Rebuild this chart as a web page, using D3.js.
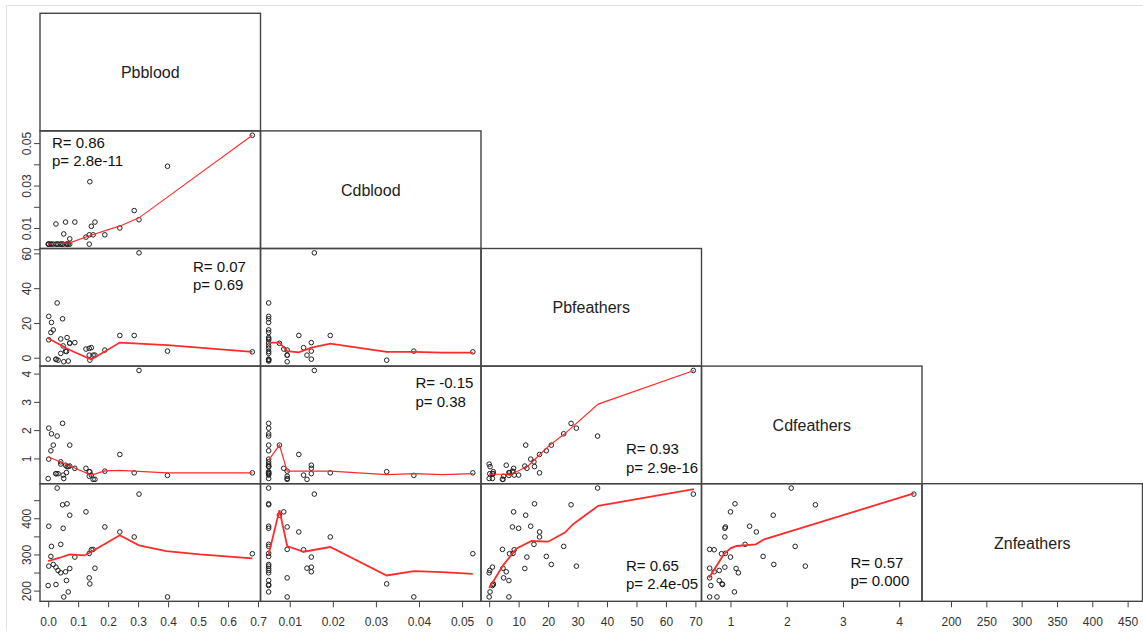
<!DOCTYPE html>
<html>
<head>
<meta charset="utf-8">
<script src="https://cdn.jsdelivr.net/npm/d3@7"></script>
<style>
  body { margin: 0; background: #fff; }
  text { font-family: "Liberation Sans", Arial, sans-serif; }
</style>
</head>
<body>
<div id="chart"></div>
<script>
// variable names on the diagonal
const varNames = ["Pbblood", "Cdblood", "Pbfeathers", "Cdfeathers", "Znfeathers"]

// values (x) of the matrix
const pbBloodX = [0.030, 0.303, 0.063, 0.048, 0.126, 0.072, 0.002, 0.189, 0.050, 0.239, 0.287, 0.042, 0.011, 0.150, 0.144, 0.137, 0.681, 0.009,
  0.089, 0.017, 0.002, 0.026, 0.072, 0.156, 0.033, 0.058, 0.042, 0.137, 0.061, 0.139, 0.026, 0.000, 0.067, 0.052, 0.398]
const cdBloodX = [0.0051, 0.0157, 0.0051, 0.0051, 0.0086, 0.0076, 0.0051, 0.0094, 0.0051, 0.0121, 0.0194, 0.0051, 0.0051, 0.0094, 0.0132, 0.0051,
  0.0525, 0.0051, 0.0150, 0.0051, 0.0051, 0.0150, 0.0051, 0.0140, 0.0051, 0.0150, 0.0051, 0.0094, 0.0051, 0.0325, 0.0051, 0.0051, 0.0051, 0.0094, 0.0388]
const pbFeathersX = [36.8, 69.3, 15.4, 27.8, 8.3, 12.4, 14.1, 7.9, 10.0, 17.1, 17.1, 15.2, 25.3, 4.5, 8.5, 8.1, 6.9, 19.4,
  12.8, 21.1, 29.6, 1.1, 12.1, 4.7, 0.2, 5.8, 0.0, 4.9, 6.7, 1.4, 1.4, 1.1, 0.3, 0.0, 6.7]
const cdFeathersX = [2.08, 4.26, 1.08, 2.51, 1.00, 1.76, 1.34, 0.91, 0.90, 1.46, 0.90, 1.26, 2.15, 0.63, 0.71, 0.91, 0.84, 1.58,
  1.00, 1.77, 2.33, 0.90, 1.10, 0.63, 0.80, 0.71, 1.14, 0.63, 0.80, 0.85, 0.86, 0.65, 1.07, 0.63, 0.76]
const znFeathersXRange = [170.5, 459.5]

const cdBloodY = [0.0024, 0.0139, 0.0024, 0.0024, 0.0057, 0.0049, 0.0024, 0.0068, 0.0024, 0.0100, 0.0182, 0.0024, 0.0024, 0.0068, 0.0108, 0.0024,
  0.0537, 0.0024, 0.0128, 0.0024, 0.0024, 0.0119, 0.0024, 0.0128, 0.0024, 0.0128, 0.0024, 0.0068, 0.0024, 0.0318, 0.0024, 0.0024, 0.0024, 0.0072, 0.0391]
const pbFeathersY = [31.5, 60.3, 11.6, 22.4, 5.0, 8.3, 10.3, 4.4, 6.8, 12.8, 12.8, 10.8, 20.3, 1.5, 5.8, 5.4, 3.4, 14.5,
  8.7, 16.0, 23.8, -0.8, 8.5, 1.5, -1.4, 3.8, 2.5, 1.5, 3.6, -1.4, -1.0, -0.8, -1.9, -2.3, 3.8]
const cdFeathersY = [1.79, 4.11, 0.71, 2.24, 0.65, 1.47, 0.975, 0.55, 0.41, 1.14, 0.49, 0.88, 1.87, 0.26, 0.41, 0.53, 0.49, 1.27,
  0.65, 1.47, 2.07, 0.46, 0.73, 0.26, 0.46, 0.76, 0.80, 0.37, 0.50, 0.53, 0.46, 0.29, 0.71, 0.29, 0.40]
const znFeathersY = [483.5, 466.8, 440.0, 437.2, 417.7, 408.5, 378.0, 376.0, 372.3, 362.2, 348.3, 327.9, 322.3, 314.0, 313.0, 302.9, 302.0, 294.6,
  292.7, 272.3, 267.7, 264.9, 261.2, 262.0, 255.7, 252.0, 249.2, 235.3, 227.9, 218.6, 216.8, 214.0, 196.4, 182.5, 182.5]

// smoother lines, keyed "row-col"
const smoothLines = {
  "1-0": [[0, 0.0025], [0.072, 0.003], [0.14, 0.0065], [0.24, 0.011], [0.303, 0.0148], [0.681, 0.0537]],
  "2-0": [[0, 11.2], [0.072, 4.4], [0.144, -1.0], [0.239, 8.7], [0.398, 7.3], [0.681, 3.4]],
  "3-0": [[0, 1.06], [0.072, 0.73], [0.144, 0.41], [0.189, 0.56], [0.239, 0.58], [0.398, 0.49], [0.681, 0.49]],
  "4-0": [[0, 281.6], [0.039, 290.9], [0.072, 300.1], [0.122, 297.3], [0.144, 307.5], [0.239, 352.9], [0.303, 325.1], [0.394, 309.4], [0.506, 300.1], [0.681, 289]],
  "2-1": [[0.0051, 8.7], [0.0076, 8.7], [0.0094, 3.8], [0.0121, 3.1], [0.015, 5.8], [0.0194, 8.1], [0.0325, 3.4], [0.0388, 3.4], [0.0454, 2.9], [0.0525, 2.9]],
  "3-1": [[0.0051, 0.94], [0.0076, 1.47], [0.0094, 0.55], [0.0194, 0.55], [0.0325, 0.43], [0.0388, 0.46], [0.0454, 0.43], [0.0525, 0.46]],
  "4-1": [[0.0051, 300.1], [0.0076, 422.4], [0.0094, 323.3], [0.0132, 307.5], [0.0194, 320.5], [0.0325, 241.8], [0.0388, 253.8], [0.0454, 251], [0.0525, 246.4]],
  "3-2": [[0, 0.44], [7.6, 0.44], [13.2, 0.73], [17.2, 1.14], [20.6, 1.47], [25.5, 1.86], [37, 2.92], [69.5, 4.11]],
  "4-2": [[0, 207.5], [4.8, 270.5], [9.3, 316.8], [14.4, 337.2], [20.0, 335.3], [25.7, 360.3], [28.5, 383.5], [37.0, 434.4], [69.5, 480.7]],
  "4-3": [[0.62, 235.3], [0.88, 300.1], [1.0, 316.8], [1.11, 323.3], [1.45, 327.9], [1.6, 341.8], [4.26, 468.7]]
}

// correlation labels
const statPanels = [[1, 0], [2, 0], [3, 1], [3, 2], [4, 2], [4, 3]]
const statR = ["0.86", "0.07", "-0.15", "0.93", "0.65", "0.57"]
const statP = ["2.8e-11", "0.69", "0.38", "2.9e-16", "2.4e-05", "0.000"]

// tick values (all ticks) and the ones that carry a label
const xTicks = [[0, 0.1, 0.2, 0.3, 0.4, 0.5, 0.6, 0.7], [0.01, 0.02, 0.03, 0.04, 0.05], [0, 10, 20, 30, 40, 50, 60, 70], [1, 2, 3, 4], [200, 250, 300, 350, 400, 450]]
const yTicks = [null, [0, 0.01, 0.02, 0.03, 0.04, 0.05], [0, 20, 40, 60], [1, 2, 3, 4], [200, 250, 300, 350, 400, 450]]
const yLabelled = [null, [0.01, 0.03, 0.05], [0, 20, 40, 60], [1, 2, 3, 4], [200, 300, 400]]

// layout
const W = 1143, H = 640
const gridLeft = 40, gridTop = 13.3, cellW = 220.5, cellH = 117.6
const statOffsets = [[12, 17, 35.5], [153, 23.4, 41.6], [155, 21.8, 40.4], [145, 87.8, 106.4], [145, 87.2, 105.6], [149, 84.2, 101.8]]
const lineWidths = [0, 1.1, 1.7, 1.2, 1.8]

const xData = [pbBloodX, cdBloodX, pbFeathersX, cdFeathersX, znFeathersXRange]
const yData = [null, cdBloodY, pbFeathersY, cdFeathersY, znFeathersY]
const xFormats = [d3.format(".1f"), d3.format(".2f"), d3.format("d"), d3.format("d"), d3.format("d")]
const yFormats = [null, d3.format(".2f"), d3.format("d"), d3.format("d"), d3.format("d")]

const svg = d3.select("#chart").append("svg")
  .attr("width", W)
  .attr("height", H)

// light frame of the screenshot
svg.append("path")
  .attr("d", "M6.5,630 V5.5 H" + W)
  .attr("fill", "none")
  .attr("stroke", "#e2e2e2")

// R-like 4% padding on both ends
function padScale(values, r0, r1) {
  const [lo, hi] = d3.extent(values)
  const pad = (hi - lo) * 0.04
  return d3.scaleLinear().domain([lo - pad, hi + pad]).range([r0, r1])
}

const xScales = xData.map((vals, c) => padScale(vals, gridLeft + c * cellW, gridLeft + (c + 1) * cellW))
const yScales = yData.map((vals, r) => vals ? padScale(vals, gridTop + (r + 1) * cellH, gridTop + r * cellH) : null)

const gridBottom = gridTop + 5 * cellH

// x axes along the bottom
xScales.forEach((x, c) => {
  const g = svg.append("g")
    .attr("transform", "translate(0," + gridBottom + ")")
    .call(d3.axisBottom(x).tickValues(xTicks[c]).tickSize(6).tickPadding(10).tickFormat(xFormats[c]))
  g.select(".domain").remove()
  g.selectAll("line").attr("stroke", "#444")
  g.selectAll("text").attr("fill", "#333").style("font-size", "12px")
})

// y axes on the left
yScales.forEach((y, r) => {
  if (!y) return
  const g = svg.append("g")
    .attr("transform", "translate(" + gridLeft + ",0)")
    .call(d3.axisLeft(y).tickValues(yTicks[r]).tickSize(6)
      .tickFormat(d => yLabelled[r].some(v => Math.abs(v - d) < 1e-9) ? yFormats[r](d) : ""))
  g.select(".domain").remove()
  g.selectAll("line").attr("stroke", "#444")
  g.selectAll("text")
    .attr("fill", "#333")
    .style("font-size", "12px")
    .attr("transform", "rotate(-90)")
    .attr("x", 0)
    .attr("y", -9)
    .attr("dy", 0)
    .attr("text-anchor", "middle")
})

// panels: lower triangle plus diagonal
for (let r = 0; r < 5; r++) {
  for (let c = 0; c <= r; c++) {
    const x0 = gridLeft + c * cellW, y0 = gridTop + r * cellH
    const panel = svg.append("g")

    if (r === c) {
      panel.append("text")
        .attr("x", x0 + cellW / 2)
        .attr("y", y0 + cellH / 2 + 6)
        .attr("text-anchor", "middle")
        .style("font-size", "16px")
        .attr("fill", "#222")
        .text(varNames[r])
    } else {
      const x = xScales[c], y = yScales[r]
      const xs = xData[c], ys = yData[r]

      panel.selectAll("circle")
        .data(d3.range(xs.length))
        .enter()
        .append("circle")
        .attr("cx", i => x(xs[i]))
        .attr("cy", i => y(ys[i]))
        .attr("r", 2.3)
        .attr("fill", "none")
        .attr("stroke", "#222")
        .attr("stroke-width", 1)

      const line = d3.line().x(d => x(d[0])).y(d => y(d[1]))
      panel.append("path")
        .attr("d", line(smoothLines[r + "-" + c]))
        .attr("fill", "none")
        .attr("stroke", "#ff2a2a")
        .attr("stroke-width", lineWidths[r])
    }

    panel.append("rect")
      .attr("x", x0)
      .attr("y", y0)
      .attr("width", cellW)
      .attr("height", cellH)
      .attr("fill", "none")
      .attr("stroke", "#444")
      .attr("stroke-width", 1.4)
  }
}

// correlation text
statPanels.forEach(([r, c], k) => {
  const x0 = gridLeft + c * cellW, y0 = gridTop + r * cellH
  const [dx, dy1, dy2] = statOffsets[k]
  svg.append("text").attr("x", x0 + dx).attr("y", y0 + dy1)
    .style("font-size", "15px").attr("fill", "#111").text("R= " + statR[k])
  svg.append("text").attr("x", x0 + dx).attr("y", y0 + dy2)
    .style("font-size", "15px").attr("fill", "#111").text("p= " + statP[k])
})
</script>
</body>
</html>
